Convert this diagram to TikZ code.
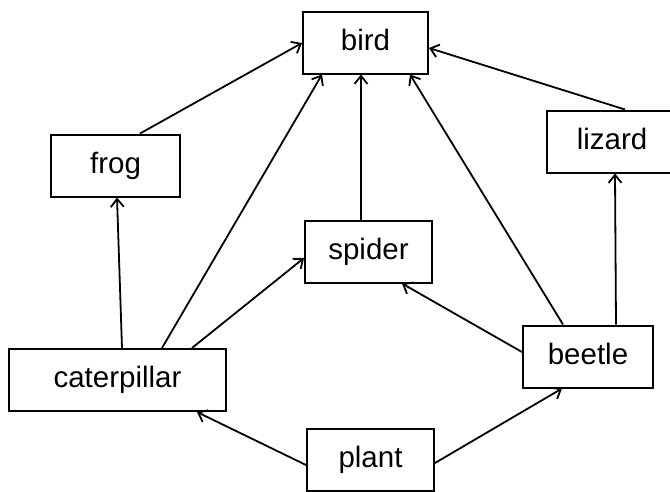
\documentclass[tikz,border=0pt]{standalone}
\usepackage{fontspec}
\setmainfont{Liberation Sans}
\usetikzlibrary{arrows.meta,calc}

\tikzset{
  organism/.style={draw, line width=2pt, rectangle, inner sep=0pt,
    minimum height=62pt, text height=21pt, text depth=6pt,
    font=\fontsize{29.5}{32}\selectfont},
  eats/.style={line width=1.8pt, -{Straight Barb[length=8pt,width=13pt,line width=1.8pt]}}
}

\begin{document}
\begin{tikzpicture}[x=1pt,y=-1pt]
  \useasboundingbox (0,0) rectangle (670,491);

  % food web nodes (centres in picture units)
  \node[organism, minimum width=125pt] (bird)        at (365.5,42.5) {bird};
  \node[organism, minimum width=129pt] (frog)        at (115.5,165.5) {frog};
  \node[organism, minimum width=130pt] (lizard)      at (612,141.5) {lizard};
  \node[organism, minimum width=127pt] (spider)      at (368.5,251.5) {spider};
  \node[organism, minimum width=217pt] (caterpillar) at (117.5,380) {caterpillar};
  \node[organism, minimum width=130pt] (beetle)      at (588,356.5) {beetle};
  \node[organism, minimum width=127pt] (plant)       at (370.5,460) {plant};

  % arrows point from food to feeder
  \draw[eats] ($(frog.north)+(24.5,0)$) -- ($(bird.west)+(0,0.5)$);
  \draw[eats] ($(lizard.north)+(13,0)$) -- ($(bird.east)+(0,5.5)$);
  \draw[eats] ($(caterpillar.north)+(44.5,0)$) -- ($(bird.south)+(-43.5,0)$);
  \draw[eats] ($(spider.north)+(-7.5,0)$) -- ($(bird.south)+(-4.5,0)$);
  \draw[eats] ($(beetle.north)+(-25,0)$) -- ($(bird.south)+(44.5,0)$);
  \draw[eats] ($(caterpillar.north)+(4.5,0)$) -- ($(frog.south)+(1.5,0)$);
  \draw[eats] ($(caterpillar.north)+(74.5,0)$) -- ($(spider.west)+(0,6.5)$);
  \draw[eats] ($(beetle.west)+(0,-4.5)$) -- ($(spider.south)+(33.5,0)$);
  \draw[eats] ($(beetle.north)+(28,0)$) -- ($(lizard.south)+(3,0)$);
  \draw[eats] ($(plant.west)+(0,5)$) -- ($(caterpillar.south)+(79.5,0)$);
  \draw[eats] ($(plant.east)+(0,3)$) -- ($(beetle.south)+(-26,0)$);
\end{tikzpicture}
\end{document}
